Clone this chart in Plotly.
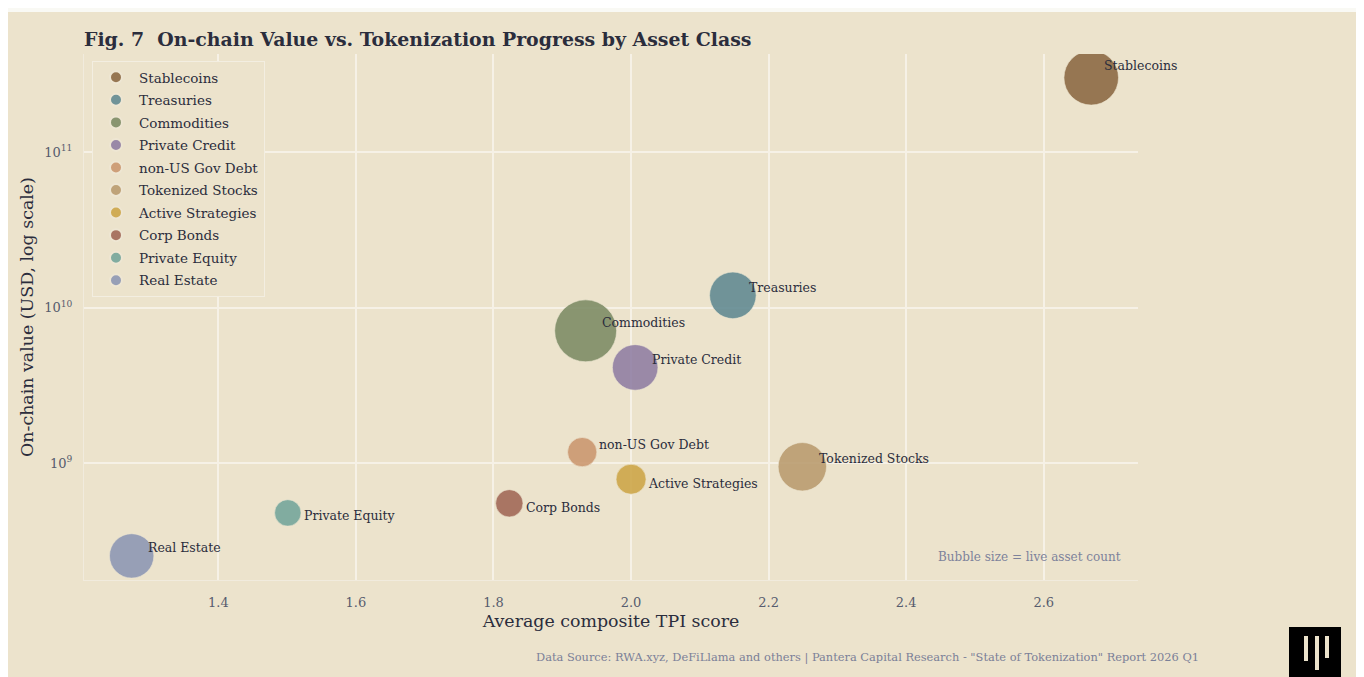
import numpy as np
import plotly.graph_objects as go

# ---------------- data ----------------
asset_classes = ["Stablecoins", "Treasuries", "Commodities", "Private Credit", "non-US Gov Debt",
                 "Tokenized Stocks", "Active Strategies", "Corp Bonds", "Private Equity", "Real Estate"]
tpi_score = [2.669, 2.148, 1.934, 2.006, 1.929, 2.249, 2.000, 1.823, 1.501, 1.274]
onchain_value = [3.0e11, 1.20e10, 7.1e9, 4.13e9, 1.18e9, 9.5e8, 7.9e8, 5.53e8, 4.8e8, 2.54e8]
live_assets = [298, 217, 384, 208, 86, 234, 90, 75, 70, 197]
x_ticks = [1.4, 1.6, 1.8, 2.0, 2.2, 2.4, 2.6]
y_ticks = [1e9, 1e10, 1e11]
y_tick_text = ["10<sup>9</sup>", "10<sup>10</sup>", "10<sup>11</sup>"]

# ---------------- style ----------------
colors = ["#8b6842", "#5f8991", "#7c8b64", "#8f7da3", "#cb966e",
          "#b99b6e", "#cda546", "#a06655", "#73a59b", "#8c96b4"]
# label offsets (px): (xshift, yshift)
label_offsets = {"Stablecoins": (10.5, 12), "Active Strategies": (14.5, -4),
                 "Corp Bonds": (14.5, -4), "Private Equity": (14.5, -3)}
DEFAULT_OFFSET = (14.5, 8)
FONT = "DejaVu Serif"
BEIGE = "#ece3cc"
PAGE = "#f9f9f4"
DARK = "#2b2d3c"
GREY = "#575c6e"

W, H = 1372, 672
L, T = 76, 46
PW, PH = 1054, 526
R, B = W - L - PW, H - T - PH
OX, OY = 8, 8  # page offset


def px_x(sx):
    return (sx - OX - L) / PW


def px_y(sy):
    return (T + PH - (sy - OY)) / PH


fig = go.Figure()
for name, xv, yv, n, c in zip(asset_classes, tpi_score, onchain_value, live_assets, colors):
    fig.add_trace(go.Scatter(
        x=[xv], y=[yv], mode="markers", name=name, legendgroup=name,
        marker=dict(size=[n], sizemode="area", sizeref=0.2, color=c, opacity=0.88,
                    line=dict(width=0.6, color="#efe7d4")),
        hoverinfo="name",
    ))
    dx, dy = label_offsets.get(name, DEFAULT_OFFSET)
    fig.add_annotation(
        x=xv, y=np.log10(yv), xref="x", yref="y", text=name, showarrow=False,
        xanchor="left", yanchor="middle", xshift=dx, yshift=dy,
        font=dict(family=FONT, size=12.5, color=DARK),
    )

shapes = [
    # beige paper
    dict(type="rect", xref="paper", yref="paper", layer="below",
         x0=px_x(7), x1=px_x(1440), y0=px_y(760), y1=px_y(12),
         fillcolor=BEIGE, line=dict(width=0)),
    # logo
    dict(type="rect", xref="paper", yref="paper",
         x0=px_x(1289), x1=px_x(1341), y0=px_y(680), y1=px_y(627),
         fillcolor="#000000", line=dict(width=0)),
]
for bx, top, bot in [(1306, 636, 661), (1317, 636, 670), (1327, 636, 658)]:
    shapes.append(dict(type="rect", xref="paper", yref="paper",
                       x0=px_x(bx - 2), x1=px_x(bx + 2), y0=px_y(bot), y1=px_y(top),
                       fillcolor=BEIGE, line=dict(width=0)))

annotations = [
    dict(text="<b>Fig. 7  On-chain Value vs. Tokenization Progress by Asset Class</b>",
         xref="paper", yref="paper", x=px_x(82), y=px_y(39), xanchor="left", yanchor="middle",
         showarrow=False, font=dict(family=FONT, size=18.9, color=DARK)),
    dict(text="Bubble size = live asset count", xref="paper", yref="paper",
         x=px_x(1123), y=px_y(557), xanchor="right", yanchor="middle", showarrow=False,
         font=dict(family=FONT, size=12, color="#7d829b")),
    dict(text='Data Source: RWA.xyz, DeFiLlama and others | Pantera Capital Research - "State of Tokenization" Report 2026 Q1',
         xref="paper", yref="paper", x=px_x(1201), y=px_y(657), xanchor="right", yanchor="middle",
         showarrow=False, font=dict(family=FONT, size=11.4, color="#7b8098")),
]

fig.update_layout(
    width=W, height=H,
    margin=dict(l=L, r=R, t=T, b=B, pad=0, autoexpand=False),
    paper_bgcolor=PAGE, plot_bgcolor=BEIGE,
    font=dict(family=FONT, color=DARK),
    shapes=shapes, annotations=list(fig.layout.annotations) + annotations,
    showlegend=True,
    legend=dict(x=px_x(92), y=px_y(61), xanchor="left", yanchor="top",
                bgcolor=BEIGE, bordercolor="#f3eee1", borderwidth=1,
                font=dict(family=FONT, size=13.5, color=DARK),
                itemsizing="constant", itemwidth=36, tracegroupgap=2),
)
fig.update_xaxes(range=[1.2047, 2.737], tickvals=x_ticks, tickformat=".1f", automargin=False,
                 showgrid=True, gridcolor="#f6f1e6", gridwidth=2, zeroline=False,
                 showline=True, linecolor="#f1ebdd", linewidth=1,
                 tickfont=dict(family=FONT, size=13, color=GREY), ticklabelstandoff=10,
                 title=dict(text="Average composite TPI score", standoff=6,
                            font=dict(family=FONT, size=17.4, color=DARK)))
fig.update_yaxes(type="log", range=[8.25, 11.63], tickvals=y_ticks, ticktext=y_tick_text,
                 automargin=False,
                 showgrid=True, gridcolor="#f6f1e6", gridwidth=2, zeroline=False,
                 showline=True, linecolor="#f1ebdd", linewidth=1,
                 tickfont=dict(family=FONT, size=13, color=GREY), ticklabelstandoff=8,
                 title=dict(text="On-chain value (USD, log scale)", standoff=6,
                            font=dict(family=FONT, size=17.4, color=DARK)))

fig.write_html("out.html")
